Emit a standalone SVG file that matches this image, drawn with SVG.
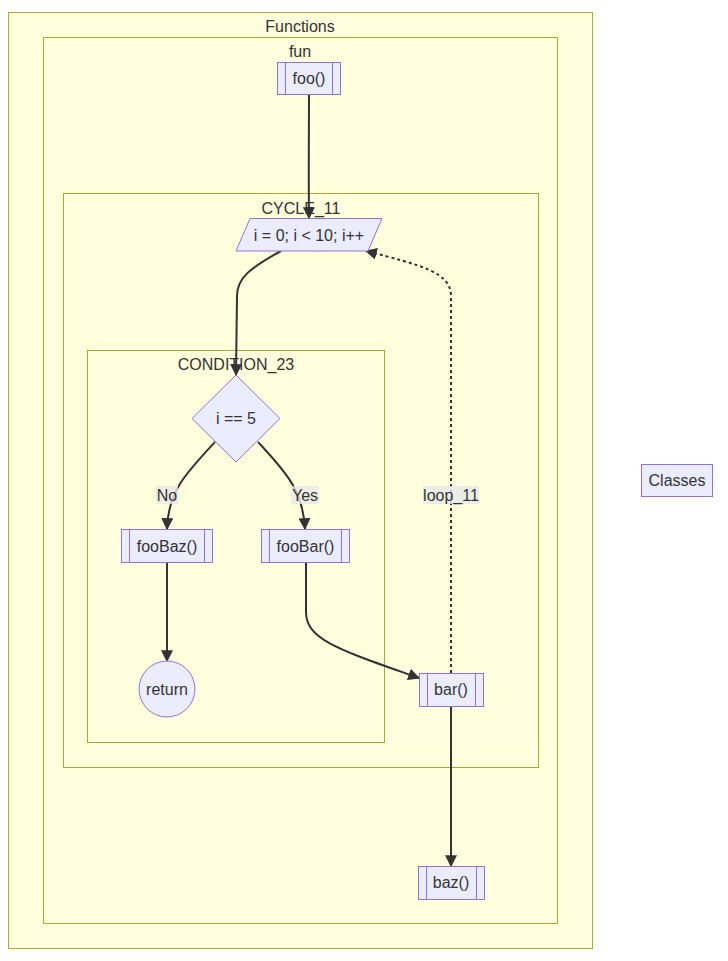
<svg xmlns="http://www.w3.org/2000/svg" width="728" height="961" viewBox="0 0 728 961">
<style>
.cl{fill:#ffffde;stroke:#aaaa33;stroke-width:1}
.nd{fill:#ECECFF;stroke:#9370DB;stroke-width:1}
.t{font-family:"Liberation Sans",Arial,sans-serif;font-size:16px;fill:#333;text-anchor:middle;dominant-baseline:central}
.e{fill:none;stroke:#333;stroke-width:2}
.d{stroke-dasharray:3 3}
.lb{fill:#e8e8e8;opacity:0.8}
</style>
<defs>
<marker id="ah" viewBox="0 0 10 10" refX="9" refY="5" markerWidth="6" markerHeight="6" markerUnits="userSpaceOnUse" orient="auto">
<path d="M0,0 L10,5 L0,10 z" fill="#333"/>
</marker>
<marker id="ah2" viewBox="0 0 10 10" refX="9" refY="5" markerWidth="12" markerHeight="12" markerUnits="userSpaceOnUse" orient="auto">
<path d="M0,0 L10,5 L0,10 z" fill="#333"/>
</marker>
</defs>
<rect width="728" height="961" fill="#ffffff"/>
<g id="Functions">
<rect class="cl" x="8.5" y="12.5" width="584" height="936"/>
<text class="t" x="300" y="26">Functions</text>
</g>
<g id="fun">
<rect class="cl" x="43.5" y="37.5" width="514" height="886"/>
<text class="t" x="300" y="51">fun</text>
</g>
<g id="CYCLE_11">
<rect class="cl" x="63.5" y="193.5" width="475" height="574"/>
<text class="t" x="301" y="208">CYCLE_11</text>
</g>
<g id="CONDITION_23">
<rect class="cl" x="87.5" y="350.5" width="297" height="392"/>
<text class="t" x="236" y="364">CONDITION_23</text>
</g>
<g id="edges">
<path class="e" d="M309,94 C309,130 308.5,170 309,218" marker-end="url(#ah2)"/>
<path class="e" d="M281,251 C250,268 237,278 237,296 L236,375" marker-end="url(#ah2)"/>
<path class="e" d="M215,442 C185,474 168,492 167,529" marker-end="url(#ah2)"/>
<path class="e" d="M258,442 C288,474 303,492 305,529" marker-end="url(#ah2)"/>
<path class="e" d="M167,562 L167,661" marker-end="url(#ah2)"/>
<path class="e" d="M306,562 L306,612 C306,640 340,650 419,678" marker-end="url(#ah2)"/>
<path class="e d" d="M451,673 L451,296 C451,272 420,265 366,251" marker-end="url(#ah2)"/>
<path class="e" d="M451,706 L451,866" marker-end="url(#ah2)"/>
<rect class="lb" x="156" y="486" width="22" height="18"/>
<text class="t" x="167" y="495">No</text>
<rect class="lb" x="291" y="486" width="28" height="18"/>
<text class="t" x="305" y="495">Yes</text>
<rect class="lb" x="423" y="486" width="56" height="18"/>
<text class="t" x="451" y="495">loop_11</text>
</g>
<g id="foo">
<rect class="nd" x="277.5" y="62.5" width="63" height="32"/>
<line class="nd" x1="285.5" y1="62.5" x2="285.5" y2="94.5"/>
<line class="nd" x1="332.5" y1="62.5" x2="332.5" y2="94.5"/>
<text class="t" x="309" y="78">foo()</text>
</g>
<g id="cycle">
<polygon class="nd" points="250,218.5 382,218.5 368,251 236,251"/>
<text class="t" x="309" y="235">i = 0; i &lt; 10; i++</text>
</g>
<g id="cond">
<polygon class="nd" points="236,375 280,418.5 236,462 192,418.5"/>
<text class="t" x="236" y="418">i == 5</text>
</g>
<g id="fooBaz">
<rect class="nd" x="121.5" y="529.5" width="91" height="33"/>
<line class="nd" x1="129.5" y1="529.5" x2="129.5" y2="562.5"/>
<line class="nd" x1="204.5" y1="529.5" x2="204.5" y2="562.5"/>
<text class="t" x="167" y="546">fooBaz()</text>
</g>
<g id="fooBar">
<rect class="nd" x="261.5" y="529.5" width="88" height="33"/>
<line class="nd" x1="269.5" y1="529.5" x2="269.5" y2="562.5"/>
<line class="nd" x1="341.5" y1="529.5" x2="341.5" y2="562.5"/>
<text class="t" x="305.5" y="546">fooBar()</text>
</g>
<g id="return">
<circle class="nd" cx="167" cy="689" r="28"/>
<text class="t" x="167" y="689">return</text>
</g>
<g id="bar">
<rect class="nd" x="419.5" y="673.5" width="64" height="33"/>
<line class="nd" x1="427.5" y1="673.5" x2="427.5" y2="706.5"/>
<line class="nd" x1="475.5" y1="673.5" x2="475.5" y2="706.5"/>
<text class="t" x="451" y="689">bar()</text>
</g>
<g id="baz">
<rect class="nd" x="418.5" y="866.5" width="66" height="33"/>
<line class="nd" x1="426.5" y1="866.5" x2="426.5" y2="899.5"/>
<line class="nd" x1="476.5" y1="866.5" x2="476.5" y2="899.5"/>
<text class="t" x="451" y="882">baz()</text>
</g>
<g id="Classes">
<rect class="nd" x="641.5" y="464.5" width="71" height="32"/>
<text class="t" x="677" y="480">Classes</text>
</g>
</svg>
